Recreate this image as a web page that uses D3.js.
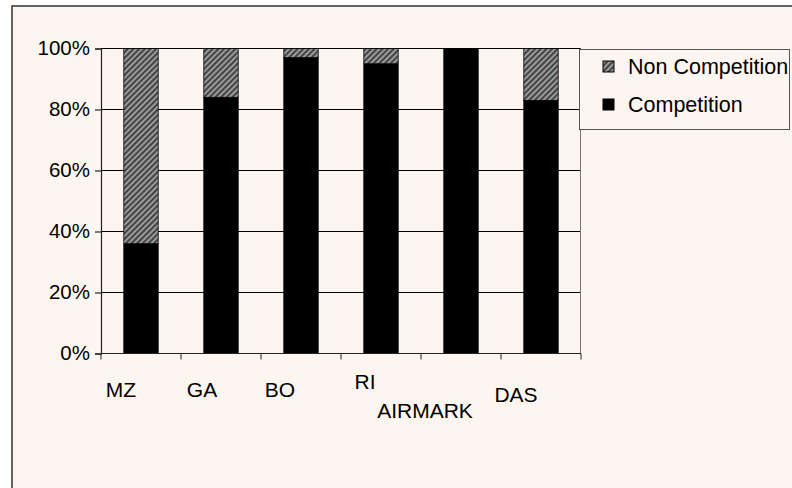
<!DOCTYPE html>
<html>
<head>
<meta charset="utf-8">
<script src="https://cdn.jsdelivr.net/npm/d3@7/dist/d3.min.js"></script>
<style>
  html, body { margin: 0; padding: 0; background: #ffffff; overflow: hidden; }
  svg { display: block; }
  text { font-family: "Liberation Sans", Arial, sans-serif; fill: #000; }
</style>
</head>
<body>
<svg id="chart" width="792" height="488"></svg>
<script>
// Share of competition vs. non-competition activity per organisation
const categories = ["MZ", "GA", "BO", "RI", "AIRMARK", "DAS"];
const competition = [36, 84, 97, 95, 100, 83];
const nonCompetition = [64, 16, 3, 5, 0, 17];
const yTicks = [0, 20, 40, 60, 80, 100];
const seriesNames = ["Competition", "Non Competition"];

// Staggered category labels: horizontal shift from band centre and baseline
const labelLayout = [
  { dx: -20, y: 397 }, { dx: -19, y: 397 }, { dx: -21, y: 397 },
  { dx: -16, y: 389 }, { dx: -36, y: 418 }, { dx: -25, y: 402 }
];

const svg = d3.select("#chart");
const bg = "#fdf6f0";
const plot = { left: 101, right: 581, top: 48.5, bottom: 353.5 };

// Hatch fill for the non-competition series
const defs = svg.append("defs");
const pat = defs.append("pattern")
  .attr("id", "hatch")
  .attr("patternUnits", "userSpaceOnUse")
  .attr("width", 4).attr("height", 4)
  .attr("patternTransform", "rotate(45)");
pat.append("rect").attr("width", 4).attr("height", 4).attr("fill", "#9a9a9a");
pat.append("line").attr("x1", 1).attr("y1", 0).attr("x2", 1).attr("y2", 4)
  .attr("stroke", "#2e2e2e").attr("stroke-width", 1.6);

// Chart area
svg.append("rect")
  .attr("x", 12).attr("y", 6).attr("width", 800).attr("height", 500)
  .attr("fill", bg).attr("stroke", "#333").attr("stroke-width", 1.5);

const x = d3.scaleBand().domain(categories).range([plot.left, plot.right]).padding(0);
const y = d3.scaleLinear().domain([0, 100]).range([plot.bottom, plot.top]);
const barW = x.bandwidth() * 0.43;

// Gridlines
svg.append("g").selectAll("line").data(yTicks.filter(t => t > 0)).join("line")
  .attr("x1", plot.left).attr("x2", plot.right)
  .attr("y1", d => y(d)).attr("y2", d => y(d))
  .attr("stroke", "#000").attr("stroke-width", 1);

// Right edge of plot
svg.append("line")
  .attr("x1", plot.right - 0.5).attr("x2", plot.right - 0.5)
  .attr("y1", plot.top).attr("y2", plot.bottom)
  .attr("stroke", "#777").attr("stroke-width", 1);

// Stacked bars
const table = categories.map((c, i) => ({
  cat: c, "Competition": competition[i], "Non Competition": nonCompetition[i]
}));
const stacked = d3.stack().keys(seriesNames)(table);
const fills = { "Competition": "#000000", "Non Competition": "url(#hatch)" };

svg.append("g").selectAll("g").data(stacked).join("g")
  .attr("fill", d => fills[d.key])
  .selectAll("rect").data(d => d.filter(s => s[1] - s[0] > 0)).join("rect")
  .attr("x", d => x(d.data.cat) + x.bandwidth() / 2 - barW / 2)
  .attr("width", barW)
  .attr("y", d => y(d[1]))
  .attr("height", d => y(d[0]) - y(d[1]))
  .attr("stroke", "#000").attr("stroke-width", 0.8);

// Y axis
const yAxis = d3.axisLeft(y).tickValues(yTicks).tickSize(6).tickFormat(d => d + "%");
const gy = svg.append("g").attr("transform", `translate(${plot.left},0)`).call(yAxis);
gy.select(".domain").attr("stroke", "#222").attr("stroke-width", 1.2);
gy.selectAll(".tick line").attr("stroke", "#000");
gy.selectAll(".tick text")
  .attr("x", -11).attr("dy", "0.3em")
  .style("font-size", "20.5px").style("font-family", "'Liberation Sans', Arial, sans-serif")
  .attr("fill", "#000");

// X axis baseline and band ticks
const xTickPos = categories.map(c => x(c)).concat([plot.right]);
svg.append("line")
  .attr("x1", plot.left).attr("x2", plot.right)
  .attr("y1", plot.bottom).attr("y2", plot.bottom)
  .attr("stroke", "#222").attr("stroke-width", 1.2);
svg.append("g").selectAll("line").data(xTickPos).join("line")
  .attr("x1", d => d).attr("x2", d => d)
  .attr("y1", plot.bottom).attr("y2", plot.bottom + 6)
  .attr("stroke", "#222").attr("stroke-width", 1);

// Category labels
svg.append("g").selectAll("text").data(categories).join("text")
  .attr("x", (d, i) => x(d) + x.bandwidth() / 2 + labelLayout[i].dx)
  .attr("y", (d, i) => labelLayout[i].y)
  .attr("text-anchor", "middle")
  .style("font-size", "21px")
  .text(d => d);

// Legend
const lg = svg.append("g");
lg.append("rect")
  .attr("x", 579.5).attr("y", 49.5).attr("width", 210).attr("height", 80)
  .attr("fill", bg).attr("stroke", "#555").attr("stroke-width", 1);
const legendItems = ["Non Competition", "Competition"];
legendItems.forEach((name, i) => {
  const cy = 66.5 + i * 38;
  lg.append("rect")
    .attr("x", 603).attr("y", cy - 5.5).attr("width", 11).attr("height", 11)
    .attr("fill", fills[name]).attr("stroke", "#000").attr("stroke-width", 1);
  lg.append("text")
    .attr("x", 628).attr("y", cy).attr("dy", "0.36em")
    .style("font-size", "21.5px")
    .text(name);
});
</script>
</body>
</html>
